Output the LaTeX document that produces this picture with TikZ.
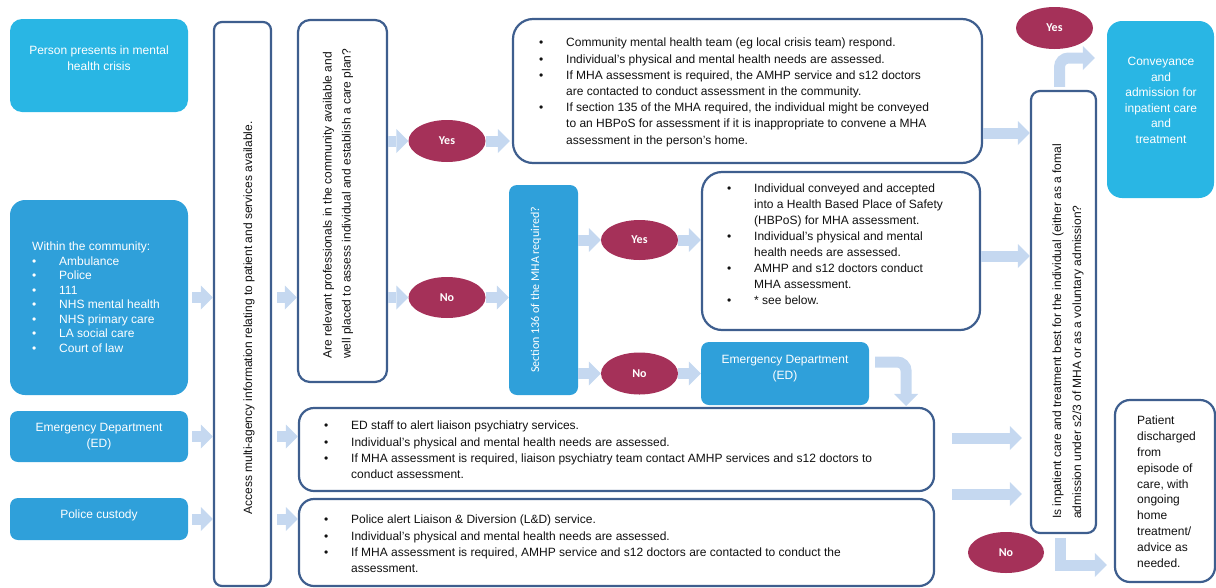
\documentclass[tikz,border=0pt]{standalone}
\usepackage{fontspec}
\setmainfont{Liberation Sans}
\newfontfamily\calfont{Carlito}
\usetikzlibrary{arrows.meta,shapes.geometric}
\definecolor{cyanbox}{HTML}{29B6E4}
\definecolor{bluebox}{HTML}{2FA0DA}
\definecolor{maroonc}{HTML}{A53159}
\definecolor{outl}{HTML}{3E5E8E}
\definecolor{arrowc}{HTML}{C5D8F0}
\definecolor{txtc}{HTML}{111111}
\newcommand{\bl}{\makebox[27pt][l]{\textbullet}}
\newcommand{\ind}{\hspace*{27pt}}
\tikzset{
  fillbox/.style={fill=bluebox, draw=none, rounded corners=8pt, inner sep=0pt, text=white,
    font=\fontsize{12}{15.5}\selectfont, align=center},
  linebox/.style={draw=outl, line width=2.2pt, fill=white, inner sep=0pt},
  oval/.style={ellipse, fill=maroonc, draw=none, inner sep=0pt, text=white,
    font=\calfont\bfseries\fontsize{12}{14}\selectfont},
  barrow/.style={draw=arrowc, line width=11pt, -{Triangle[length=12pt,width=24pt,line width=0pt]}},
  txt/.style={inner sep=0pt, align=left, text=txtc, font=\fontsize{12}{16.2}\selectfont},
  wtxt/.style={inner sep=0pt, text=white, font=\fontsize{12}{15.6}\selectfont},
}
\begin{document}
\begin{tikzpicture}[x=1pt,y=-1pt]
\useasboundingbox (0,0) rectangle (1216,587);
\clip (0,0) rectangle (1216,587);

% left source boxes
\node[fillbox, fill=cyanbox, rounded corners=12pt, minimum width=178pt, minimum height=93pt] (person) at (99,65.5) {};
\node[wtxt, align=center, anchor=north] (persont) at (99,46) {Person presents in mental\\health crisis};
\node[fillbox, rounded corners=15pt, minimum width=178pt, minimum height=195pt] (comm) at (99,297.5) {};
\node[wtxt, align=left, anchor=north west, font=\fontsize{12}{14.5}\selectfont] (commt) at (32,242)
  {Within the community:\\
   \makebox[27pt][l]{\textbullet}Ambulance\\
   \makebox[27pt][l]{\textbullet}Police\\
   \makebox[27pt][l]{\textbullet}111\\
   \makebox[27pt][l]{\textbullet}NHS mental health\\
   \makebox[27pt][l]{\textbullet}NHS primary care\\
   \makebox[27pt][l]{\textbullet}LA social care\\
   \makebox[27pt][l]{\textbullet}Court of law};
\node[fillbox, minimum width=178pt, minimum height=51pt] (ed) at (99,436.5) {Emergency Department\\(ED)};
\node[fillbox, minimum width=178pt, minimum height=42pt] (police) at (99,519) {};
\node[wtxt, anchor=north] (policet) at (99,510) {Police custody};

% access box
\node[linebox, rounded corners=8pt, minimum width=57pt, minimum height=564pt] (access) at (242.5,304) {};
\node[txt, rotate=90] (accesst) at (249,318) {Access multi-agency information relating to patient and services available.};

% question box
\node[linebox, rounded corners=12pt, minimum width=89pt, minimum height=362pt] (q) at (342.5,201) {};
\node[txt, rotate=90, anchor=west, font=\fontsize{12}{19}\selectfont] (qt) at (338,359)
  {Are relevant professionals in the community available and\\well placed to assess individual and establish a care plan?};

\node[oval, minimum width=77pt, minimum height=42pt] (yes1) at (447,141) {Yes};
\node[oval, minimum width=77pt, minimum height=41pt] (no1) at (447,297.5) {No};

% top box
\node[linebox, rounded corners=20pt, minimum width=469pt, minimum height=144pt] (top) at (747.5,91) {};
\node[txt, anchor=north west] (topt) at (539,38)
  {\bl Community mental health team (eg local crisis team) respond.\\
   \bl Individual’s physical and mental health needs are assessed.\\
   \bl If MHA assessment is required, the AMHP service and s12 doctors\\
   \ind are contacted to conduct assessment in the community.\\
   \bl If section 135 of the MHA required, the individual might be conveyed\\
   \ind to an HBPoS for assessment if it is inappropriate to convene a MHA\\
   \ind assessment in the person’s home.};

% section 136
\node[fillbox, minimum width=69pt, minimum height=210pt] (s136) at (543.5,290) {};
\node[wtxt, rotate=90, font=\calfont\fontsize{12}{14}\selectfont] (s136t) at (536,290) {Section 136 of the MHA required?};

\node[oval, minimum width=77pt, minimum height=40pt] (yes2) at (639.5,240) {Yes};
\node[oval, minimum width=77pt, minimum height=42pt] (no2) at (639.5,373.5) {No};

% HBPoS box
\node[linebox, rounded corners=20pt, minimum width=278pt, minimum height=158pt] (hb) at (841,251) {};
\node[txt, anchor=north west, font=\fontsize{12}{16}\selectfont] (hbt) at (727,184)
  {\bl Individual conveyed and accepted\\
   \ind into a Health Based Place of Safety\\
   \ind (HBPoS) for MHA assessment.\\
   \bl Individual’s physical and mental\\
   \ind health needs are assessed.\\
   \bl AMHP and s12 doctors conduct\\
   \ind MHA assessment.\\
   \bl * see below.};

% ED 2
\node[fillbox, minimum width=168pt, minimum height=63pt] (ed2) at (785,373.5) {};
\node[wtxt, align=center, anchor=north] (ed2t) at (785,355) {Emergency Department\\(ED)};

% ED bullet box
\node[linebox, rounded corners=15pt, minimum width=635pt, minimum height=83pt] (edb) at (616.5,449.5) {};
\node[txt, anchor=north west] (edbt) at (324,421)
  {\bl ED staff to alert liaison psychiatry services.\\
   \bl Individual’s physical and mental health needs are assessed.\\
   \bl If MHA assessment is required, liaison psychiatry team contact AMHP services and s12 doctors to\\
   \ind conduct assessment.};

% Police bullet box
\node[linebox, rounded corners=15pt, minimum width=635pt, minimum height=87pt] (polb) at (616.5,542.5) {};
\node[txt, anchor=north west] (polbt) at (324,515)
  {\bl Police alert Liaison \& Diversion (L\&D) service.\\
   \bl Individual’s physical and mental health needs are assessed.\\
   \bl If MHA assessment is required, AMHP service and s12 doctors are contacted to conduct the\\
   \ind assessment.};

% inpatient question
\node[linebox, rounded corners=9pt, minimum width=65pt, minimum height=442pt] (inp) at (1063.5,312) {};
\node[txt, rotate=90, anchor=west, font=\fontsize{12}{20}\selectfont] (inpt) at (1068,519)
  {Is inpatient care and treatment best for the individual (either as a fomal\\admission under s2/3 of MHA or as a voluntary admission?};

\node[oval, minimum width=77pt, minimum height=42pt] (yes3) at (1054.5,28) {Yes};
\node[oval, minimum width=76pt, minimum height=41pt] (no3) at (1006,552.5) {No};

% conveyance
\node[fillbox, fill=cyanbox, rounded corners=15pt, minimum width=107pt, minimum height=177pt] (conv) at (1160.5,109.5) {};
\node[wtxt, align=center, anchor=north] (convt) at (1161,57)
  {Conveyance\\and\\admission for\\inpatient care\\and\\treatment};

% patient discharged
\node[linebox, rounded corners=15pt, minimum width=100pt, minimum height=182pt] (pat) at (1165,491) {};
\node[txt, anchor=north west, font=\fontsize{12}{15.8}\selectfont] (patt) at (1137,416)
  {Patient\\discharged\\from\\episode of\\care, with\\ongoing\\home\\treatment/\\advice as\\needed.};

% arrows
\draw[barrow, shorten <=4pt] (comm.east) -- (comm.east -| access.west);
\draw[barrow, shorten <=4pt] (ed.east) -- (ed.east -| access.west);
\draw[barrow, shorten <=4pt] (police.east) -- (police.east -| access.west);
\draw[barrow, shorten <=5pt] (access.east |- comm.east) -- (q.west |- comm.east);
\draw[barrow, shorten <=5pt] (access.east |- ed.east) -- (edb.west |- ed.east);
\draw[barrow, shorten <=5pt] (access.east |- police.east) -- (polb.west |- police.east);
\draw[barrow] (q.east |- yes1.west) -- (yes1.west);
\draw[barrow, shorten >=2pt] (yes1.east) -- (yes1.east -| top.west);
\draw[barrow] (q.east |- no1.west) -- (no1.west);
\draw[barrow] (no1.east) -- (no1.east -| s136.west);
\draw[barrow] (s136.east |- yes2.west) -- (yes2.west);
\draw[barrow] (yes2.east) -- (yes2.east -| hb.west);
\draw[barrow] (s136.east |- no2.west) -- (no2.west);
\draw[barrow] (no2.east) -- (no2.east -| ed2.west);
\draw[barrow, rounded corners=9pt, shorten <=6pt, shorten >=1pt] ([yshift=11.5pt]ed2.east) -| ([xshift=-29pt]edb.north east);
\draw[barrow] ([yshift=-42pt]top.east) -- ([yshift=-42pt]top.east -| inp.west);
\draw[barrow] ([yshift=-5pt]hb.east) -- ([yshift=-5pt]hb.east -| inp.west);
\draw[barrow, shorten <=17pt, shorten >=8pt] ([yshift=11.5pt]edb.east) -- ([yshift=11.5pt]edb.east -| inp.west);
\draw[barrow, shorten <=17pt, shorten >=8pt] ([yshift=48.5pt]polb.east) -- ([yshift=48.5pt]polb.east -| inp.west);
\draw[barrow, rounded corners=9pt, shorten <=3pt, shorten >=12pt] ([xshift=-4pt]inp.north) |- ([yshift=51.5pt]conv.west);
\draw[barrow, shorten <=4pt, shorten >=7pt] ([xshift=-3.5pt]inp.south) |- ([yshift=-74pt]pat.west);
\end{tikzpicture}
\end{document}
